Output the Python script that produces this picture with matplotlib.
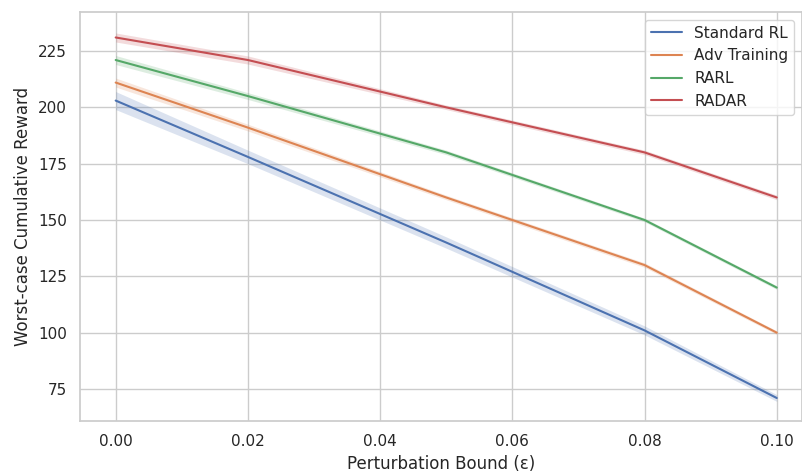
import matplotlib
matplotlib.use("Agg")
import matplotlib.pyplot as plt
import seaborn as sns
import numpy as np

epsilons = [0.0, 0.02, 0.05, 0.08, 0.10]
methods = ["Standard RL", "Adv Training", "RARL", "RADAR"]
rewards = {
    "Standard RL": [203, 178, 140, 101, 71],
    "Adv Training": [211, 191, 160, 130, 100],
    "RARL": [221, 205, 180, 150, 120],
    "RADAR": [231, 221, 200, 180, 160],
}
band = {
    "Standard RL": [4.0, 3.0, 2.5, 2.0, 1.5],
    "Adv Training": [2.0, 1.5, 1.0, 1.0, 0.8],
    "RARL": [2.0, 1.5, 1.0, 0.8, 0.8],
    "RADAR": [2.0, 1.8, 1.0, 1.0, 1.0],
}

sns.set_theme(style="whitegrid")
colors = sns.color_palette("deep")

fig = plt.figure(figsize=(8.03, 4.75), dpi=100)
ax = fig.add_axes([0.0996, 0.1137, 0.899, 0.861])

for i, m in enumerate(methods):
    y = np.array(rewards[m], dtype=float)
    b = np.array(band[m])
    ax.plot(epsilons, y, color=colors[i], lw=1.5, label=m)
    ax.fill_between(epsilons, y - b, y + b, color=colors[i], alpha=0.2, lw=0)

ax.set_xlim(-0.0054, 0.1038)
ax.set_ylim(60.8, 242.3)
ax.set_xticks([0.0, 0.02, 0.04, 0.06, 0.08, 0.10])
ax.set_xticklabels(["0.00", "0.02", "0.04", "0.06", "0.08", "0.10"])
ax.set_yticks([75, 100, 125, 150, 175, 200, 225])
ax.set_xlabel("Perturbation Bound (ε)")
ax.set_ylabel("Worst-case Cumulative Reward")
ax.legend(loc="upper right")

fig.savefig("out.png", dpi=100)
